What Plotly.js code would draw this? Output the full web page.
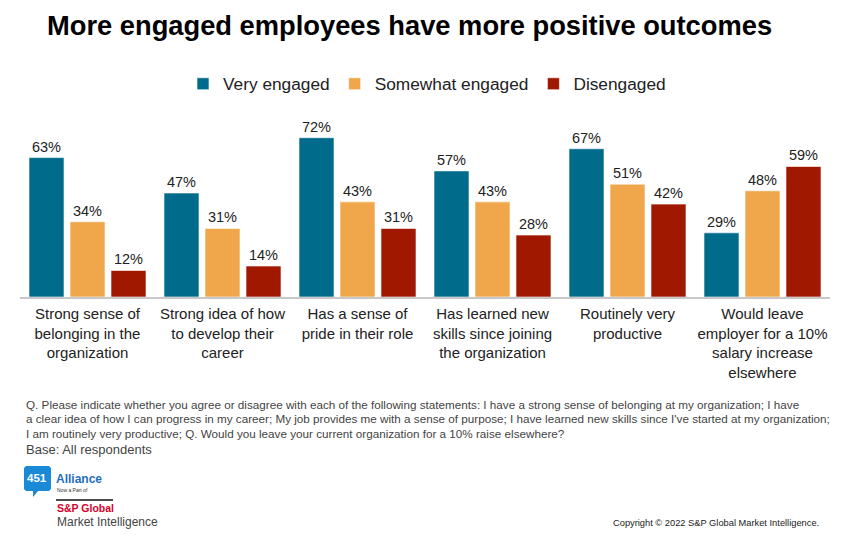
<!DOCTYPE html>
<html>
<head>
<meta charset="utf-8">
<script src="https://cdn.plot.ly/plotly-3.0.1.min.js"></script>
<style>html,body{margin:0;padding:0;background:#fff;}#chart{width:850px;height:537px;}</style>
</head>
<body>
<div id="chart"></div>
<script>
const categories = [
  "Strong sense of<br>belonging in the<br>organization",
  "Strong idea of how<br>to develop their<br>career",
  "Has a sense of<br>pride in their role",
  "Has learned new<br>skills since joining<br>the organization",
  "Routinely very<br>productive",
  "Would leave<br>employer for a 10%<br>salary increase<br>elsewhere"
];
const seriesNames = ["Very engaged", "Somewhat engaged", "Disengaged"];
const veryEngaged = [63, 47, 72, 57, 67, 29];
const somewhatEngaged = [34, 31, 43, 43, 51, 48];
const disengaged = [12, 14, 31, 28, 42, 59];
const colors = ["#006b8a", "#f0a64b", "#a11800"];

const footnoteLines = [
  "Q. Please indicate whether you agree or disagree with each of the following statements: I have a strong sense of belonging at my organization; I have",
  "a clear idea of how I can progress in my career; My job provides me with a sense of purpose; I have learned new skills since I've started at my organization;",
  "I am routinely very productive; Q. Would you leave your current organization for a 10% raise elsewhere?"
];
const baseText = "Base: All respondents";
const copyrightText = "Copyright \u00a9 2022 S&P Global Market Intelligence.";

// plot area in pixels: x 20..830, y 120..297
const L = 20, R = 830, T = 120, B = 297;
const X = px => (px - L) / (R - L);
const Y = py => (B - py) / (B - T);

const mainFont = "Liberation Sans, Arial, sans-serif";

const values = [veryEngaged, somewhatEngaged, disengaged];
const traces = values.map((v, i) => ({
  type: "bar",
  name: seriesNames[i],
  x: categories,
  y: v,
  marker: {color: colors[i], line: {color: "rgba(255,255,255,0.6)", width: 1}},
  text: v.map(d => d + "%"),
  textposition: "outside",
  textfont: {family: mainFont, size: 14.5, color: "#222"},
  cliponaxis: false,
  hoverinfo: "x+y"
}));

const annotations = [];
footnoteLines.forEach((t, i) => {
  annotations.push({text: t, xref: "paper", yref: "paper", x: X(24), y: Y(404 + i * 14.5),
    xanchor: "left", yanchor: "middle", showarrow: false,
    font: {family: mainFont, size: 11.7, color: "#444"}});
});
annotations.push({text: baseText, xref: "paper", yref: "paper", x: X(24), y: Y(449),
  xanchor: "left", yanchor: "middle", showarrow: false,
  font: {family: mainFont, size: 13, color: "#444"}});
annotations.push({text: copyrightText, xref: "paper", yref: "paper", x: X(821), y: Y(523),
  xanchor: "right", yanchor: "middle", showarrow: false,
  font: {family: mainFont, size: 9.3, color: "#222"}});
// logo texts
annotations.push({text: "<b>451</b>", xref: "paper", yref: "paper", x: X(37), y: Y(478),
  xanchor: "center", yanchor: "middle", showarrow: false,
  font: {family: mainFont, size: 11.5, color: "#fff"}});
annotations.push({text: "<b>Alliance</b>", xref: "paper", yref: "paper", x: X(54), y: Y(479),
  xanchor: "left", yanchor: "middle", showarrow: false,
  font: {family: mainFont, size: 12, color: "#1f6fbf"}});
annotations.push({text: "Now a Part of", xref: "paper", yref: "paper", x: X(55), y: Y(490),
  xanchor: "left", yanchor: "middle", showarrow: false,
  font: {family: mainFont, size: 5, color: "#333"}});
annotations.push({text: "<b>S&amp;P Global</b>", xref: "paper", yref: "paper", x: X(55), y: Y(508),
  xanchor: "left", yanchor: "middle", showarrow: false,
  font: {family: mainFont, size: 10.5, color: "#d6002a"}});
annotations.push({text: "Market Intelligence", xref: "paper", yref: "paper", x: X(55), y: Y(522),
  xanchor: "left", yanchor: "middle", showarrow: false,
  font: {family: mainFont, size: 12, color: "#444"}});

const bubblePts = [[26,466],[49,466],[51,468],[51,489],[49,491],[38,491],[33,497],[33,491],[26,491],[24,489],[24,468]];
const bubblePath = "M" + bubblePts.map(p => X(p[0]).toFixed(5) + "," + Y(p[1]).toFixed(5)).join("L") + "Z";

const shapes = [
  {type: "path", xref: "paper", yref: "paper", path: bubblePath,
   fillcolor: "#1a8ad6", line: {width: 0}},
  {type: "line", xref: "paper", yref: "paper", x0: X(56), x1: X(113), y0: Y(500), y1: Y(500),
   line: {color: "#111", width: 1.5}}
];

const layout = {
  width: 850, height: 537,
  margin: {l: L, r: 850 - R, t: T, b: 537 - B, pad: 0},
  paper_bgcolor: "#fff", plot_bgcolor: "#fff",
  font: {family: mainFont, color: "#222"},
  title: {text: "<b>More engaged employees have more positive outcomes</b>",
    xref: "container", yref: "container", x: 47 / 850, xanchor: "left",
    y: 1 - 25 / 537, yanchor: "middle",
    font: {family: mainFont, size: 27.3, color: "#000"}},
  barmode: "group",
  bargap: 0.089,
  bargroupgap: 0.146,
  showlegend: true,
  legend: {orientation: "h", x: X(183), xanchor: "left", y: Y(84), yanchor: "middle",
    font: {family: mainFont, size: 17.3, color: "#222"}, bgcolor: "rgba(0,0,0,0)",
    traceorder: "normal"},
  xaxis: {type: "category", showline: true, linecolor: "#c8c8c8", linewidth: 2,
    ticks: "", showgrid: false, zeroline: false, fixedrange: true,
    ticklabelstandoff: 2,
    tickfont: {family: mainFont, size: 15, color: "#222"}, automargin: false},
  yaxis: {range: [0, 80], visible: false, showgrid: false, zeroline: false, fixedrange: true},
  annotations: annotations,
  shapes: shapes
};

Plotly.newPlot("chart", traces, layout, {displayModeBar: false, staticPlot: true});
</script>
</body>
</html>
